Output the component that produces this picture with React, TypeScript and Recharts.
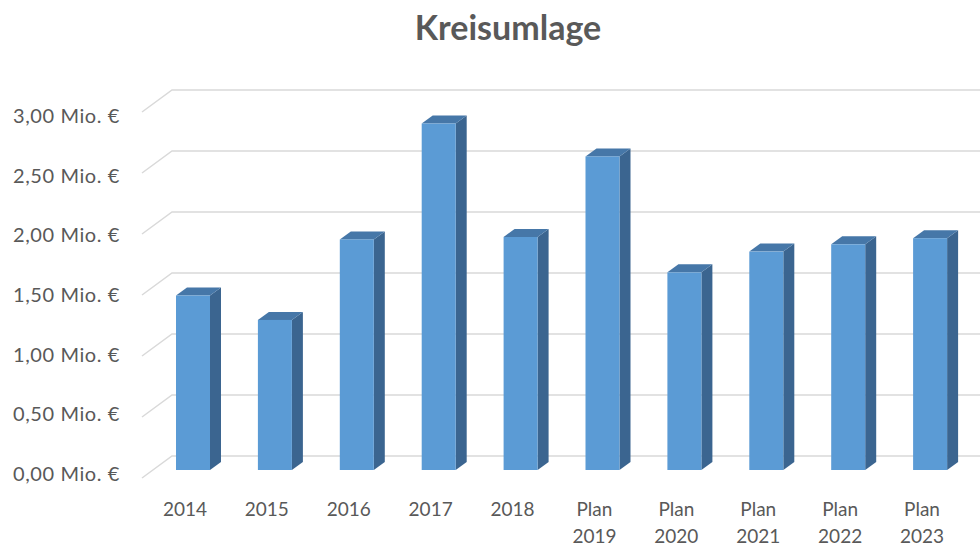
import React from "react";
import { BarChart, Bar, XAxis, YAxis, CartesianGrid } from "recharts";

// Kreisumlage in Mio. €
const categories = ["2014", "2015", "2016", "2017", "2018", "Plan 2019", "Plan 2020", "Plan 2021", "Plan 2022", "Plan 2023"];
const values = [1.43, 1.23, 1.89, 2.84, 1.91, 2.57, 1.62, 1.79, 1.85, 1.9];
const yTicks = [0, 0.5, 1, 1.5, 2, 2.5, 3];

const data = categories.map((c, i) => ({ name: c, value: values[i] }));

const FONT = "Lato, 'Open Sans', sans-serif";
const TEXT = "#595959";
const GRID = "#D9D9D9";

const fmt = (v: number) => v.toFixed(2).replace(".", ",") + " Mio. €";

// 3D bar: front face, right side and top
const Bar3D = (props: any) => {
  const { x, y, width, height } = props;
  if (height == null || height <= 0) return null;
  const fx = x + 8;
  const dx = 11;
  const dy = 8;
  return (
    <g>
      <polygon
        points={`${fx + width},${y} ${fx + width + dx},${y - dy} ${fx + width + dx},${y + height - dy} ${fx + width},${y + height}`}
        fill="#3B6590"
      />
      <polygon
        points={`${fx},${y} ${fx + dx},${y - dy} ${fx + width + dx},${y - dy} ${fx + width},${y}`}
        fill="#4677A8"
      />
      <rect x={fx} y={y} width={width} height={height} fill="#5B9BD5" />
    </g>
  );
};

// gridline with the slanted floor edge on the left
const GridLine = (props: any) => {
  const { y1, x2 } = props;
  const back = y1 - 14;
  return (
    <polyline
      key={`g-${y1}`}
      points={`142,${back + 22} 172,${back} ${x2 + 20},${back}`}
      fill="none"
      stroke={GRID}
      strokeWidth={1.5}
    />
  );
};

const YTick = (props: any) => {
  const { y, payload } = props;
  const v = payload.value;
  return (
    <text
      x={120}
      y={y + 3 + 2.7 * v}
      textAnchor="end"
      dominantBaseline="central"
      fill={TEXT}
      fontSize={20}
      letterSpacing={0.6}
      fontFamily={FONT}
    >
      {fmt(v)}
    </text>
  );
};

const XTick = (props: any) => {
  const { x, payload } = props;
  const parts = String(payload.value).split(" ");
  return (
    <g>
      {parts.map((p, i) => (
        <text key={i} x={x} y={508 + i * 27} textAnchor="middle" dominantBaseline="central" fill={TEXT} fontSize={19} fontFamily={FONT}>
          {p}
        </text>
      ))}
    </g>
  );
};

export default function App() {
  return (
    <div style={{ position: "absolute", left: 0, top: 0, width: 980, height: 547, background: "#fff" }}>
      <BarChart
        width={980}
        height={547}
        data={data}
        margin={{ top: 104, right: 17, bottom: 17, left: 0 }}
        barCategoryGap={0}
      >
        <text x={508} y={40} textAnchor="middle" fill={TEXT} fontSize={34} fontWeight="bold" fontFamily={FONT}>
          Kreisumlage
        </text>
        <CartesianGrid vertical={false} horizontal={(p: any) => <GridLine {...p} />} stroke={GRID} />
        <XAxis dataKey="name" axisLine={false} tickLine={false} height={60} interval={0} tick={<XTick />} />
        <YAxis
          domain={[0, 3]}
          ticks={yTicks}
          width={144}
          axisLine={false}
          tickLine={false}
          tick={<YTick />}
        />
        <Bar dataKey="value" barSize={34} shape={<Bar3D />} isAnimationActive={false} />
      </BarChart>
    </div>
  );
}
